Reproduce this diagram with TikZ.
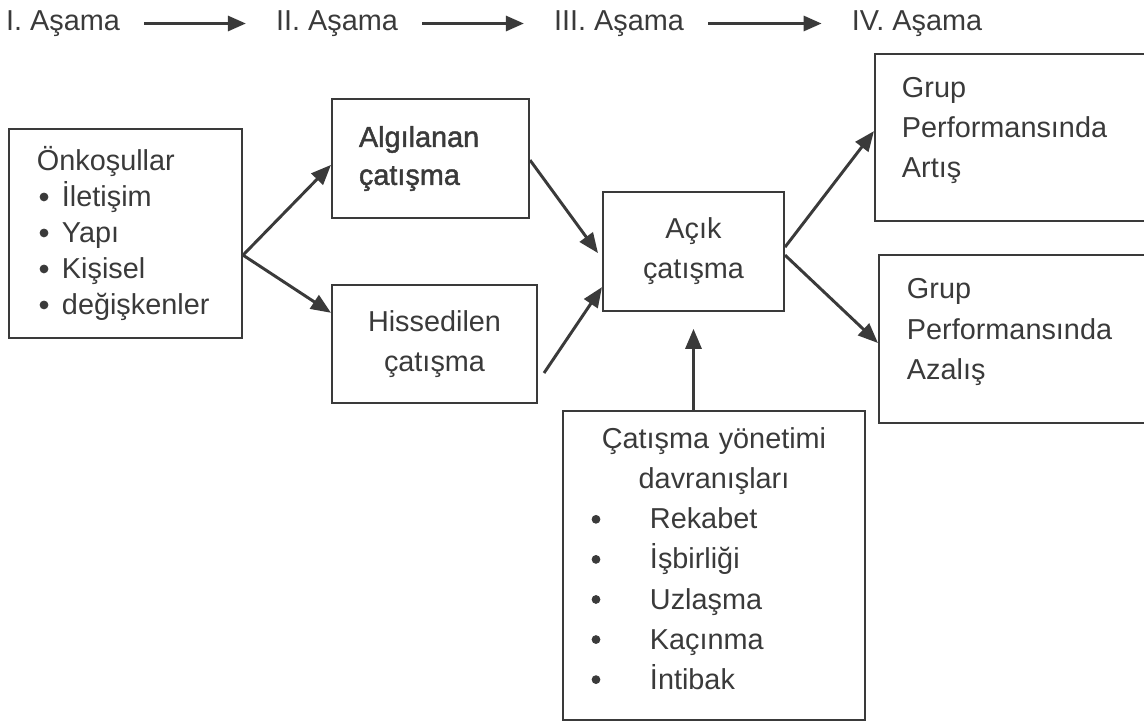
\documentclass[tikz,border=0pt]{standalone}
\usepackage{fontspec}
\setmainfont{Liberation Sans}
\newfontfamily\medfont{Liberation Sans}[FakeBold=1.5]
\newfontfamily\dotfont{Liberation Sans}[FakeBold=3]
\usetikzlibrary{arrows.meta}
\definecolor{ink}{HTML}{3A3A3A}
\newcommand{\bigdot}{{\dotfont\textbullet}}
\newcommand{\bul}{\hspace*{0.05cm}\makebox[0.575cm][l]{\bigdot}}
\newcommand{\yitem}[1]{\makebox[7.55cm][l]{\hspace*{0.7cm}\makebox[1.475cm][l]{\bigdot}#1}}
\newcommand{\lowpad}[1]{\rule[-#1]{0pt}{0pt}}
\begin{document}
\begin{tikzpicture}[x=0.025cm,y=-0.025cm,
  every node/.style={text=ink,font=\fontsize{20.5}{28.5}\selectfont},
  box/.style={draw=ink,line width=1.4pt,inner ysep=0pt},
  flow/.style={draw=ink,line width=2.1pt,-{Triangle[length=0.5cm,width=0.4cm]}},
  stage/.style={draw=ink,line width=1.8pt,-{Triangle[length=0.45cm,width=0.38cm]},shorten <=0.6cm,shorten >=0.75cm}]
\useasboundingbox (0,0) rectangle (1144,726);
\clip (0,0) rectangle (1144,726);
\node[inner sep=0pt] (s1) at (63,23.5) {I. Aşama};
\node[inner sep=0pt] (s2) at (337,23.5) {II. Aşama};
\node[inner sep=0pt] (s3) at (619,23.5) {III. Aşama};
\node[inner sep=0pt] (s4) at (917,23.5) {IV. Aşama};
\draw[stage] (s1) -- (s2);
\draw[stage] (s2) -- (s3);
\draw[stage] (s3) -- (s4);
\node[box,minimum width=5.825cm,minimum height=5.225cm,inner xsep=0.7cm,text width=4.425cm,align=left,font=\fontsize{20.5}{25.6}\selectfont] (pre) at (125.5,233.5) {Önkoşullar\\\bul İletişim\\\bul Yapı\\\bul Kişisel\\\bul değişkenler};
\node[box,minimum width=4.925cm,minimum height=2.975cm,inner xsep=0.675cm,text width=3.575cm,align=left,font=\medfont\fontsize{20.5}{27}\selectfont] (alg) at (430.5,158.5) {Algılanan\\çatışma};
\node[box,minimum width=5.125cm,minimum height=2.95cm,align=center] (his) at (434.5,344) {Hissedilen\\çatışma};
\node[box,minimum width=4.525cm,minimum height=2.975cm,align=center] (acik) at (693.5,251.5) {Açık\\çatışma};
\node[box,minimum width=7.125cm,minimum height=4.175cm,inner xsep=0.675cm,text width=5.775cm,align=left] (artis) at (1017.5,137.5) {Grup\\Performansında\\Artış\lowpad{0.5cm}};
\node[box,minimum width=7.025cm,minimum height=4.2cm,inner xsep=0.7cm,text width=5.625cm,align=left] (azal) at (1019.5,339) {Grup\\Performansında\\Azalış\lowpad{0.5cm}};
\node[box,minimum width=7.55cm,minimum height=7.725cm,inner xsep=0pt,text width=7.55cm,align=center] (yon) at (714,565.5) {Çatışma yönetimi\\davranışları\\\yitem{Rekabet}\\\yitem{İşbirliği}\\\yitem{Uzlaşma}\\\yitem{Kaçınma}\\\yitem{İntibak}\lowpad{0.35cm}};
\draw[flow] ([yshift=-0.54cm]pre.east) -- ([yshift=-0.16cm]alg.west);
\draw[flow] ([yshift=-0.54cm]pre.east) -- ([yshift=0.78cm]his.west);
\draw[flow] ([yshift=-0.04cm]alg.east) -- ([xshift=-0.1cm,yshift=-0.04cm]acik.west);
\draw[flow] ([xshift=0.15cm,yshift=-0.725cm]his.east) -- ([yshift=-0.89cm]acik.west);
\draw[flow] ([yshift=0.11cm]acik.east) -- ([yshift=0.16cm]artis.west);
\draw[flow] ([yshift=-0.09cm]acik.east) -- ([yshift=-0.1cm]azal.west);
\draw[flow,shorten >=0.42cm] (yon.north -| acik.south) -- (acik.south);
\end{tikzpicture}
\end{document}
